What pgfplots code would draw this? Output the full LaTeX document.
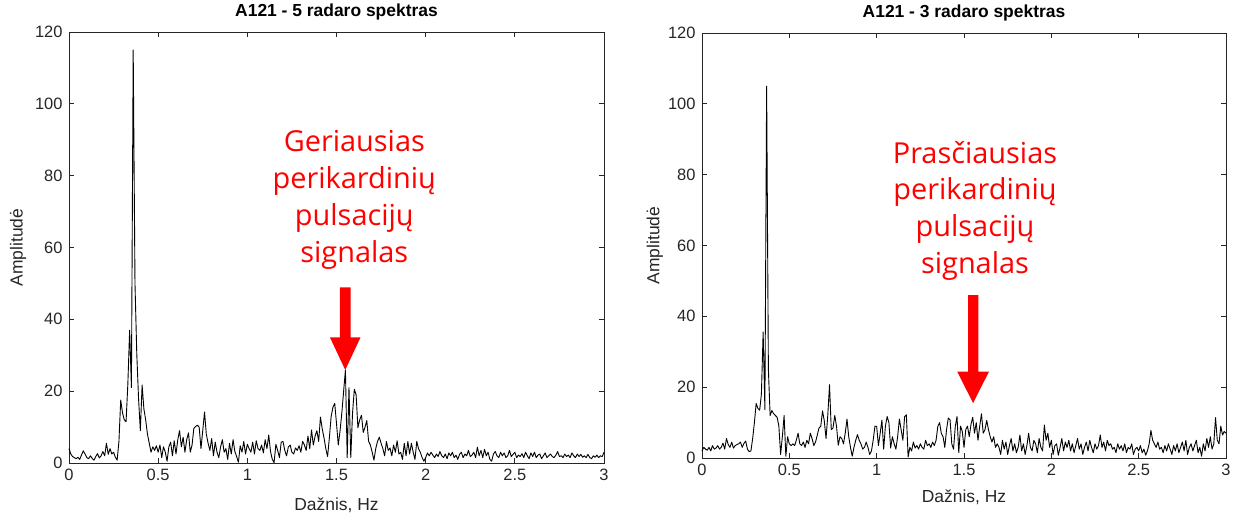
\documentclass[border=0pt]{standalone}
\usepackage{pgfplots}
\pgfplotsset{compat=1.18}
\usepackage{pgfplotstable}
\usepackage{fontspec}
\setmainfont{Liberation Sans}
\newfontfamily\annfont{Open Sans}
\definecolor{axgray}{RGB}{38,38,38}

% Left spectrum (radar 5), spacing 0.01 Hz from 0 to 3 Hz
\pgfplotstableread[row sep=\\]{a\\
4.0\\2.5\\1.8\\1.5\\1.2\\1.6\\1.0\\2.2\\3.4\\2.5\\
1.5\\1.2\\2.0\\1.3\\0.8\\1.8\\2.6\\1.4\\2.0\\3.2\\
2.0\\5.5\\2.4\\4.0\\2.5\\3.0\\1.6\\0.8\\6.0\\17.5\\
14.0\\12.0\\11.5\\22.0\\37.0\\21.0\\115.0\\50.0\\30.5\\18.0\\
9.0\\21.7\\15.0\\12.0\\8.0\\5.5\\3.0\\4.5\\3.5\\4.8\\
3.0\\5.0\\1.5\\4.5\\3.0\\0.5\\4.5\\5.8\\2.0\\6.2\\
2.5\\6.5\\9.0\\4.5\\7.2\\3.0\\6.5\\8.4\\3.0\\5.0\\
9.6\\10.2\\10.5\\10.0\\4.0\\9.0\\14.2\\8.0\\5.5\\3.5\\
6.8\\2.0\\5.8\\3.0\\1.5\\4.5\\6.5\\3.0\\4.0\\1.0\\
5.5\\2.5\\6.5\\3.2\\1.8\\0.2\\4.8\\3.0\\6.0\\2.5\\
5.2\\4.0\\3.0\\5.8\\2.5\\6.2\\4.0\\3.5\\5.0\\2.8\\
6.5\\4.0\\7.8\\3.2\\1.0\\0.1\\5.2\\3.5\\1.5\\5.8\\
6.0\\3.5\\2.0\\4.5\\5.0\\3.0\\2.5\\4.2\\3.5\\4.8\\
3.0\\6.0\\5.0\\3.5\\7.5\\4.0\\9.2\\5.0\\7.5\\9.0\\
6.0\\12.8\\9.5\\7.0\\4.0\\1.8\\7.0\\13.0\\15.5\\16.6\\
11.0\\5.0\\9.0\\14.0\\20.0\\25.9\\1.5\\21.0\\1.5\\14.0\\
20.5\\19.0\\9.8\\12.0\\13.3\\8.5\\10.0\\11.8\\6.0\\5.0\\
3.0\\0.8\\4.0\\6.0\\7.2\\5.5\\4.0\\2.0\\6.0\\3.5\\
4.2\\2.0\\5.0\\3.0\\6.2\\2.5\\3.0\\1.0\\5.5\\2.0\\
6.0\\2.5\\5.5\\3.0\\1.0\\6.0\\4.0\\3.0\\1.5\\0.5\\
1.5\\2.8\\2.0\\3.0\\2.2\\1.5\\2.5\\1.8\\3.2\\2.0\\
1.5\\2.5\\1.2\\2.8\\2.0\\3.0\\1.5\\2.2\\1.0\\2.4\\
3.0\\1.5\\2.5\\2.0\\3.5\\1.8\\2.2\\3.0\\1.5\\4.4\\
2.0\\3.5\\1.5\\3.8\\2.0\\3.0\\1.0\\0.5\\2.5\\3.2\\
2.0\\1.5\\3.0\\2.0\\2.8\\1.5\\2.0\\3.5\\1.8\\2.4\\
3.0\\1.5\\2.2\\1.8\\2.6\\1.5\\3.0\\2.0\\1.2\\2.8\\
1.8\\3.0\\1.5\\2.2\\2.5\\1.2\\2.0\\2.8\\1.5\\2.0\\
2.5\\1.8\\1.5\\2.2\\3.2\\1.8\\2.0\\1.5\\2.5\\1.8\\
2.2\\1.5\\2.8\\2.0\\1.5\\2.5\\1.8\\2.4\\1.6\\2.0\\
1.5\\2.4\\1.5\\1.2\\2.0\\1.6\\2.2\\1.5\\2.0\\1.8\\
3.0\\
}\datL

% Right spectrum (radar 3), spacing 0.01 Hz from 0 to 3 Hz
\pgfplotstableread[row sep=\\]{a\\
2.0\\3.0\\2.5\\2.2\\3.0\\2.0\\3.5\\2.5\\2.8\\3.5\\
2.5\\3.0\\4.2\\2.5\\5.5\\3.8\\3.0\\4.5\\2.8\\3.5\\
3.8\\4.0\\4.5\\3.0\\4.1\\4.8\\2.5\\1.8\\2.0\\5.5\\
10.0\\15.4\\14.0\\13.5\\18.0\\35.6\\13.7\\105.0\\25.0\\12.0\\
13.4\\12.5\\12.0\\11.5\\9.0\\1.0\\6.0\\12.0\\0.5\\6.0\\
4.0\\3.5\\4.0\\3.5\\5.0\\7.0\\4.0\\3.5\\4.5\\3.0\\
5.0\\4.0\\7.0\\5.5\\3.5\\4.5\\6.5\\8.5\\9.0\\13.3\\
10.5\\5.5\\12.0\\20.7\\8.0\\8.5\\12.0\\9.0\\3.6\\6.0\\
5.5\\4.0\\7.0\\11.0\\6.0\\3.0\\0.5\\3.0\\5.0\\6.6\\
5.0\\4.0\\2.5\\3.0\\4.5\\3.0\\1.0\\2.0\\5.0\\9.0\\
8.9\\3.5\\7.0\\10.7\\2.5\\9.0\\11.7\\10.0\\2.8\\6.0\\
4.0\\2.5\\6.0\\11.0\\8.0\\5.0\\11.7\\12.2\\0.3\\3.0\\
2.0\\4.5\\2.8\\3.5\\2.5\\4.0\\3.0\\2.5\\5.0\\3.5\\
4.0\\3.0\\4.5\\3.5\\5.0\\8.9\\10.0\\7.0\\6.0\\3.0\\
8.0\\11.3\\10.8\\4.0\\2.5\\8.9\\11.7\\1.5\\9.0\\7.5\\
3.0\\8.0\\9.0\\6.0\\9.5\\11.5\\7.0\\10.0\\5.0\\9.0\\
12.5\\7.0\\8.0\\10.6\\8.0\\6.0\\4.5\\6.0\\3.0\\4.0\\
3.0\\1.0\\5.0\\2.5\\4.5\\1.0\\3.5\\5.5\\2.0\\4.0\\
1.5\\3.0\\6.5\\2.0\\4.0\\1.0\\3.5\\7.0\\3.0\\2.0\\
5.0\\4.0\\1.5\\5.5\\3.0\\2.0\\9.3\\5.0\\7.0\\3.0\\
5.0\\1.0\\3.5\\4.0\\0.8\\3.0\\5.5\\2.0\\4.5\\3.0\\
5.0\\2.0\\4.0\\1.5\\3.5\\5.5\\2.5\\4.0\\1.0\\3.0\\
4.5\\2.0\\5.0\\3.0\\1.5\\4.0\\2.5\\3.5\\6.5\\3.0\\
4.5\\2.0\\5.0\\3.5\\4.0\\2.5\\3.0\\1.5\\4.0\\2.5\\
3.5\\2.0\\4.0\\1.5\\3.0\\2.5\\4.0\\1.0\\2.5\\3.0\\
2.0\\3.5\\1.5\\2.5\\0.8\\2.0\\4.0\\7.8\\5.0\\4.0\\
3.0\\4.5\\2.5\\3.0\\1.5\\3.5\\2.0\\4.0\\2.5\\1.0\\
3.5\\2.0\\4.0\\1.5\\3.0\\4.5\\2.0\\5.0\\1.0\\3.0\\
4.0\\2.0\\3.5\\5.0\\1.5\\3.0\\0.5\\4.0\\2.0\\5.5\\
3.0\\6.0\\2.5\\4.0\\11.4\\5.0\\4.0\\9.0\\6.5\\7.5\\
7.0\\
}\datR

\pgfplotsset{
  specax/.style={
    scale only axis, anchor=south west,
    xmin=0, xmax=3, ymin=0, ymax=120,
    xtick={0,0.5,1,1.5,2,2.5,3},
    ytick={0,20,40,60,80,100,120},
    tick align=inside, major tick length=5bp,
    axis line style={line width=0.7bp, axgray},
    every tick/.style={line width=0.7bp, axgray},
    ticklabel style={font=\fontsize{16.5}{19}\selectfont, text=axgray},
    /pgf/number format/assume math mode=true,
    xticklabel style={yshift=-3bp},
    yticklabel style={xshift=-3bp},
    xlabel={Dažnis, Hz}, ylabel={Amplitudė},
    label style={font=\fontsize{17.5}{20}\selectfont, text=axgray},
    title style={font=\bfseries\fontsize{17.5}{20}\selectfont, text=black, anchor=center},
    clip=false,
  },
  spec/.style={black, line width=0.9bp, no markers, line join=round},
}

\begin{document}
\begin{tikzpicture}[x=1bp,y=1bp]
\useasboundingbox (0,0) rectangle (1242,518);

% Left axis
\begin{axis}[specax,
  at={(69bp,55bp)}, width=535bp, height=431bp,
  title={A121 - 5 radaro spektras},
  title style={at={(0.5,1.032)}},
  xlabel style={at={(0.5,-0.097)}, anchor=center},
  ylabel style={at={(-0.095,0.5)}, anchor=center},
]
\addplot[spec] table[x expr=\coordindex*0.01, y=a] {\datL};
\fill[red] (axis cs:1.519,48.9) -- (axis cs:1.579,48.9) -- (axis cs:1.579,35.0)
  -- (axis cs:1.635,35.0) -- (axis cs:1.549,25.9) -- (axis cs:1.463,35.0)
  -- (axis cs:1.519,35.0) -- cycle;
\node[red, align=center, font=\annfont\fontsize{29}{37}\selectfont]
  at (axis cs:1.60,73.3) {Geriausias\\perikardinių\\pulsacijų\\signalas};
\end{axis}

% Right axis
\begin{axis}[specax,
  at={(702bp,60bp)}, width=524bp, height=425bp,
  title={A121 - 3 radaro spektras},
  title style={at={(0.5,1.033)}},
  xlabel style={at={(0.5,-0.092)}, anchor=center},
  ylabel style={at={(-0.090,0.5)}, anchor=center},
]
\addplot[spec] table[x expr=\coordindex*0.01, y=a] {\datR};
\fill[red] (axis cs:1.524,46.0) -- (axis cs:1.582,46.0) -- (axis cs:1.582,24.4)
  -- (axis cs:1.643,24.4) -- (axis cs:1.552,15.5) -- (axis cs:1.461,24.4)
  -- (axis cs:1.524,24.4) -- cycle;
\node[red, align=center, font=\annfont\fontsize{29}{37}\selectfont]
  at (axis cs:1.563,69.8) {Prasčiausias\\perikardinių\\pulsacijų\\signalas};
\end{axis}
\end{tikzpicture}
\end{document}
